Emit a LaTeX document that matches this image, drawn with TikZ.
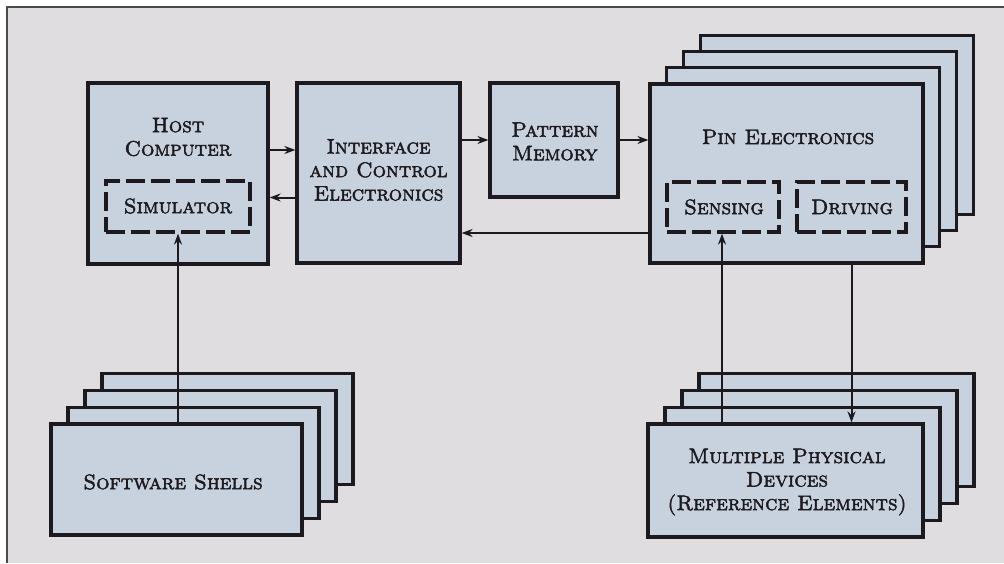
\documentclass[tikz,border=0pt]{standalone}
\usetikzlibrary{arrows.meta,calc}
\definecolor{bgc}{RGB}{224,221,225}
\definecolor{boxc}{RGB}{200,210,223}
\definecolor{ink}{RGB}{28,26,30}
\newcommand\heavytext[1]{\special{pdf:literal direct 2 Tr 0.45 w}#1\special{pdf:literal direct 0 Tr}}
\tikzset{
  blk/.style={draw=ink, line width=3.2pt, fill=boxc, inner sep=0pt, rectangle},
  dbox/.style={draw=ink, line width=3.2pt, dash pattern=on 19pt off 6pt, inner sep=0pt, rectangle},
  lbl/.style={text=ink, font=\fontsize{21}{23.5}\selectfont\scshape, align=center, inner sep=0pt},
  conn/.style={draw=ink, line width=2pt},
  arr/.style={conn, -{Stealth[length=11pt,width=8pt]}}
}
\begin{document}
\begin{tikzpicture}[x=1pt,y=-1pt]
\useasboundingbox (0,0) rectangle (1004,563);
\fill[white] (0,0) rectangle (1004,563);
\fill[bgc] (7,7) rectangle (1004,563);
\draw[ink!80, line width=1.4pt] (1004,7) -- (7,7) -- (7,563);

% Host computer
\node[blk, minimum width=180pt, minimum height=181pt] (host) at (178,173.5) {};
\node[lbl] (hosttxt) at (178,137) {\heavytext{Host\\Computer}};
\node[dbox, minimum width=144pt, minimum height=51pt] (sim) at (178,206.5) {};
\node[lbl] (simtxt) at (178,206) {\heavytext{Simulator}};

% Interface
\node[blk, minimum width=163pt, minimum height=180pt] (iface) at (378.5,173) {};
\node[lbl] (ifacetxt) at (378.5,170) {\heavytext{Interface\\and Control\\Electronics}};

% Pattern memory
\node[blk, minimum width=128pt, minimum height=114pt] (pat) at (554,140) {};
\node[lbl] (pattxt) at (555,141.5) {\heavytext{Pattern\\Memory}};

% Pin electronics stack
\foreach \k in {3,2,1}{
  \node[blk, minimum width=273pt, minimum height=179pt] (pinc\k) at ({786.5+16.8*\k},{173.5-16.2*\k}) {};
}
\node[blk, minimum width=273pt, minimum height=179pt] (pin) at (786.5,173.5) {};
\node[lbl] (pintxt) at (788,137) {\heavytext{Pin Electronics}};
\node[dbox, minimum width=112pt, minimum height=50pt] (sens) at (723,207) {};
\node[lbl] (senstxt) at (724,207) {\heavytext{Sensing}};
\node[dbox, minimum width=109pt, minimum height=50pt] (driv) at (851.5,207) {};
\node[lbl] (drivtxt) at (852,207) {\heavytext{Driving}};

% Software shells stack
\foreach \k in {3,2,1}{
  \node[blk, minimum width=251pt, minimum height=111pt] (softc\k) at ({176.5+17*\k},{479.5-16.9*\k}) {};
}
\node[blk, minimum width=251pt, minimum height=111pt] (soft) at (176.5,479.5) {};
\node[lbl] (softtxt) at (173,482) {\heavytext{Software Shells}};

% Devices stack
\foreach \k in {3,2,1}{
  \node[blk, minimum width=275pt, minimum height=113pt] (devc\k) at ({785.5+17*\k},{480.5-16.8*\k}) {};
}
\node[blk, minimum width=275pt, minimum height=113pt] (dev) at (785.5,480.5) {};
\node[lbl] (devtxt) at (787,482) {\heavytext{Multiple Physical\\Devices\\(Reference Elements)}};

% Connectors
\draw[arr] ([yshift=23.5pt]host.east) coordinate (h1) -- (h1 -| iface.west);
\draw[arr] ([yshift=-24.5pt]iface.west) coordinate (h2) -- (h2 -| host.east);
\draw[arr] ([yshift=33pt]iface.east) coordinate (h3) -- (h3 -| pat.west);
\draw[arr] ([yshift=0pt]pat.east) coordinate (h4) -- (h4 -| pin.west);
\draw[arr] ([yshift=-59.5pt]pin.west) coordinate (h5) -- (h5 -| iface.east);
\draw[arr] (sim.south |- soft.north) -- (sim.south);
\draw[arr] ([xshift=-1pt]sens.south |- dev.north) -- ([xshift=-1pt]sens.south);
\draw[arr] (driv.south |- pin.south) -- (driv.south |- dev.north);
\end{tikzpicture}
\end{document}
